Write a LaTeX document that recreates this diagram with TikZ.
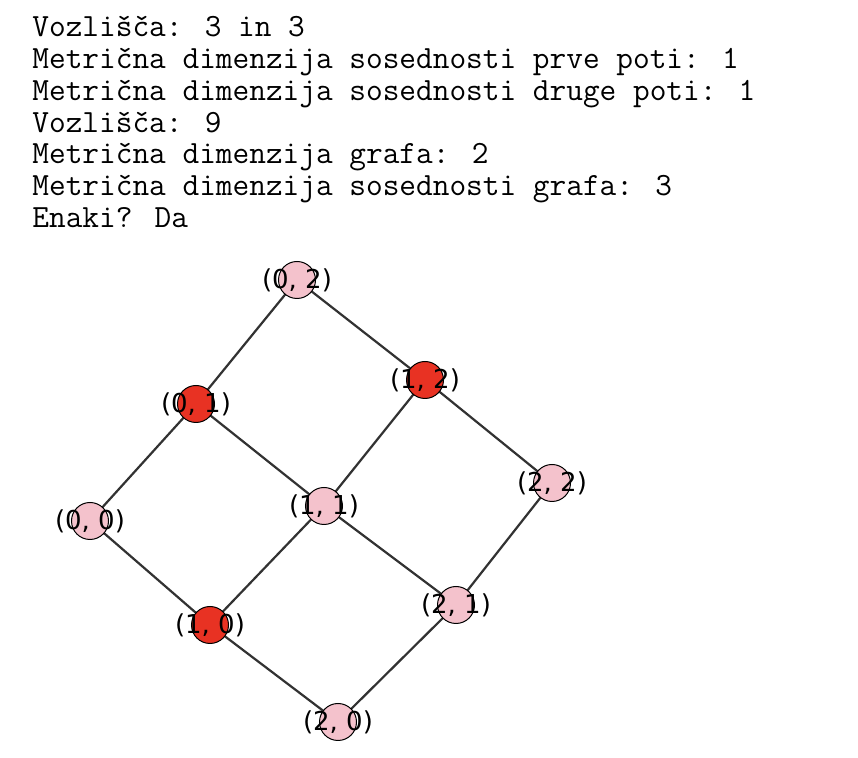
\documentclass[tikz,border=0pt]{standalone}
\usepackage{fontspec}
\usetikzlibrary{backgrounds}
\newfontfamily\labfont{DejaVu Sans}
\begin{document}
\begin{tikzpicture}[x=0.5pt,y=-0.5pt,
  txt/.style={anchor=base west,inner sep=0pt,font=\ttfamily\fontsize{16.2}{18}\selectfont},
  vtx/.style={circle,draw=black,line width=0.5pt,minimum size=18.5pt,inner sep=0pt},
  pinkv/.style={vtx,fill=vpink},
  redv/.style={vtx,fill=vred},
  lab/.style={font=\labfont\fontsize{13}{15}\selectfont,inner sep=0pt},
  edge/.style={draw=edgegray,line width=1.1pt}]
\definecolor{vpink}{RGB}{244,194,204}
\definecolor{vred}{RGB}{232,50,35}
\definecolor{edgegray}{RGB}{50,50,50}
% text
\node[txt] (t1) at (32,37) {Vozlišča: 3 in 3};
\node[txt] (t2) at (32,68.7) {Metrična dimenzija sosednosti prve poti: 1};
\node[txt] (t3) at (32,100.4) {Metrična dimenzija sosednosti druge poti: 1};
\node[txt] (t4) at (32,132.1) {Vozlišča: 9};
\node[txt] (t5) at (32,163.8) {Metrična dimenzija grafa: 2};
\node[txt] (t6) at (32,195.5) {Metrična dimenzija sosednosti grafa: 3};
\node[txt] (t7) at (32,227.2) {Enaki? Da};
% vertices
\node[pinkv] (v02) at (297,280) {};
\node[redv]  (v12) at (425,380) {};
\node[redv]  (v01) at (196,404) {};
\node[pinkv] (v22) at (552,483) {};
\node[pinkv] (v11) at (324,506) {};
\node[pinkv] (v00) at (90,521) {};
\node[pinkv] (v21) at (456,605) {};
\node[redv]  (v10) at (210,625) {};
\node[pinkv] (v20) at (338,722) {};
% labels
\node[lab] (l02) at (v02) {(0, 2)};
\node[lab] (l12) at (v12) {(1, 2)};
\node[lab] (l01) at (v01) {(0, 1)};
\node[lab] (l22) at (v22) {(2, 2)};
\node[lab] (l11) at (v11) {(1, 1)};
\node[lab] (l00) at (v00) {(0, 0)};
\node[lab] (l21) at (v21) {(2, 1)};
\node[lab] (l10) at (v10) {(1, 0)};
\node[lab] (l20) at (v20) {(2, 0)};
% edges
\begin{scope}[on background layer]
\fill[white] (0,0) rectangle (858,758);
\draw[edge] (v00.center) -- (v01.center) -- (v02.center) -- (v12.center) -- (v22.center) -- (v21.center) -- (v20.center) -- (v10.center) -- cycle;
\draw[edge] (v01.center) -- (v11.center) -- (v21.center);
\draw[edge] (v10.center) -- (v11.center) -- (v12.center);
\end{scope}
\useasboundingbox (0,0) rectangle (858,758);
\end{tikzpicture}
\end{document}
